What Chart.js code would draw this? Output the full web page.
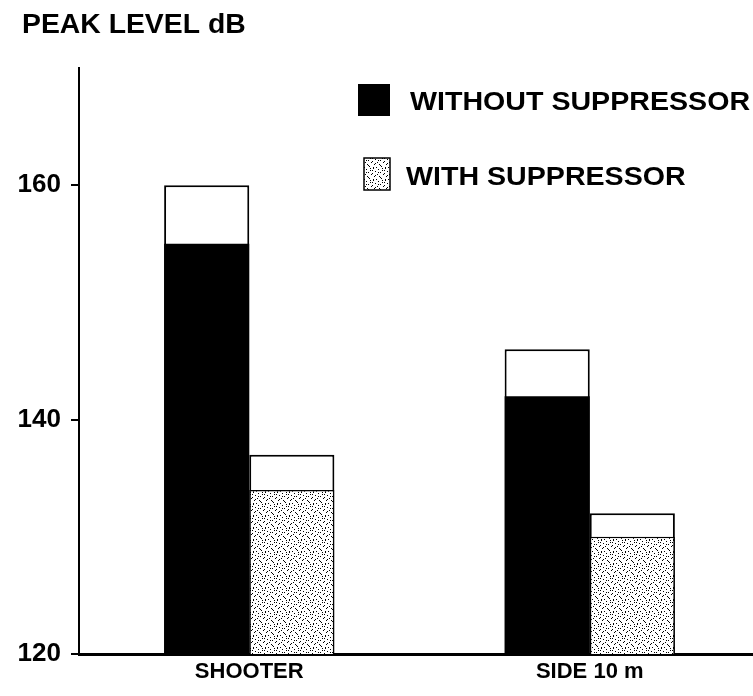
<!DOCTYPE html>
<html>
<head>
<meta charset="utf-8">
<script src="https://cdn.jsdelivr.net/npm/chart.js@4.4.1/dist/chart.umd.min.js"></script>
<style>
html, body { margin: 0; padding: 0; background: #fff; overflow: hidden; }
#wrap { width: 760px; height: 696px; }
</style>
</head>
<body>
<div id="wrap"><canvas id="peak_chart"></canvas></div>
<script>
var places = ['SHOOTER', 'SIDE 10 m'];
var withoutLow = [155, 142];
var withoutHigh = [160, 146];
var withLow = [134, 130];
var withHigh = [137, 132];
var yTicks = [120, 140, 160];

var FONT = "'Liberation Sans', Arial, sans-serif";

var canvas = document.getElementById('peak_chart');
var ctx = canvas.getContext('2d');

// dotted fill like the printed screen tone
function stipple() {
    var c = document.createElement('canvas');
    c.width = 12; c.height = 12;
    var g = c.getContext('2d');
    g.fillStyle = '#fff';
    g.fillRect(0, 0, 12, 12);
    g.fillStyle = '#000';
    var dots = [[1,0],[6,1],[10,2],[3,3],[8,4],[0,5],[5,6],[11,6],[2,8],[7,8],[9,10],[4,11],[1,11],[10,0],[6,4],[3,7],[8,9],[0,2]];
    dots.forEach(function(d){ g.fillRect(d[0], d[1], 1, 1); });
    return ctx.createPattern(c, 'repeat');
}
var dotted = stipple();

// text a bit wider than the font, like the scanned lettering
function wideText(c, txt, x, y, sx) {
    c.save();
    c.translate(x, y);
    c.scale(sx, 1);
    c.fillText(txt, 0, 0);
    c.restore();
}

// title + legend drawn by hand
var extras = {
    id: 'extras',
    afterDraw: function(chart) {
        var c = chart.ctx;
        c.save();
        c.fillStyle = '#000';
        c.textBaseline = 'middle';
        c.textAlign = 'left';
        c.font = 'bold 27px ' + FONT;
        wideText(c, 'PEAK LEVEL dB', 22, 26, 1.05);

        c.font = 'bold 26px ' + FONT;
        c.fillRect(358, 84, 32, 32);
        wideText(c, chart.data.datasets[0].label, 410, 103, 1.1);

        c.fillStyle = dotted;
        c.fillRect(364, 158, 26, 32);
        c.strokeStyle = '#000';
        c.lineWidth = 1.5;
        c.strokeRect(364, 158, 26, 32);
        c.fillStyle = '#000';
        wideText(c, chart.data.datasets[2].label, 406, 178, 1.1);
        c.restore();
    }
};

new Chart(canvas, {
    type: 'bar',
    data: {
        labels: places,
        datasets: [{
            label: 'WITHOUT SUPPRESSOR',
            data: withoutLow,
            stack: 'without',
            backgroundColor: '#000',
            borderWidth: 0
        }, {
            label: 'without max',
            data: withoutHigh,
            stack: 'without',
            backgroundColor: '#fff',
            borderColor: '#000',
            borderWidth: 2
        }, {
            label: 'WITH SUPPRESSOR',
            data: withLow,
            stack: 'with',
            backgroundColor: dotted,
            borderColor: '#000',
            borderWidth: 1.5
        }, {
            label: 'with max',
            data: withHigh,
            stack: 'with',
            backgroundColor: '#fff',
            borderColor: '#000',
            borderWidth: 2
        }]
    },
    options: {
        responsive: true,
        maintainAspectRatio: false,
        animation: false,
        layout: { padding: { top: 68, left: 0, right: 0, bottom: 0 } },
        datasets: {
            bar: { categoryPercentage: 0.5, barPercentage: 1 }
        },
        plugins: {
            legend: { display: false },
            tooltip: { enabled: false }
        },
        scales: {
            x: {
                stacked: true,
                afterFit: function(s) { s.height = 42; },
                grid: { display: false, drawTicks: false },
                border: { color: '#000', width: 3 },
                ticks: { color: '#000', padding: 5, font: { family: FONT, size: 22, weight: 'bold' } }
            },
            y: {
                stacked: false,
                min: 120,
                max: 170,
                afterBuildTicks: function(s) { s.ticks = yTicks.map(function(v){ return { value: v }; }); },
                afterFit: function(s) { s.width = 79; },
                border: { color: '#000', width: 2 },
                grid: { drawOnChartArea: false, color: '#000', lineWidth: 2, tickLength: 8 },
                ticks: { color: '#000', padding: 10, font: { family: FONT, size: 26, weight: 'bold' } }
            }
        }
    },
    plugins: [extras]
});
</script>
</body>
</html>
